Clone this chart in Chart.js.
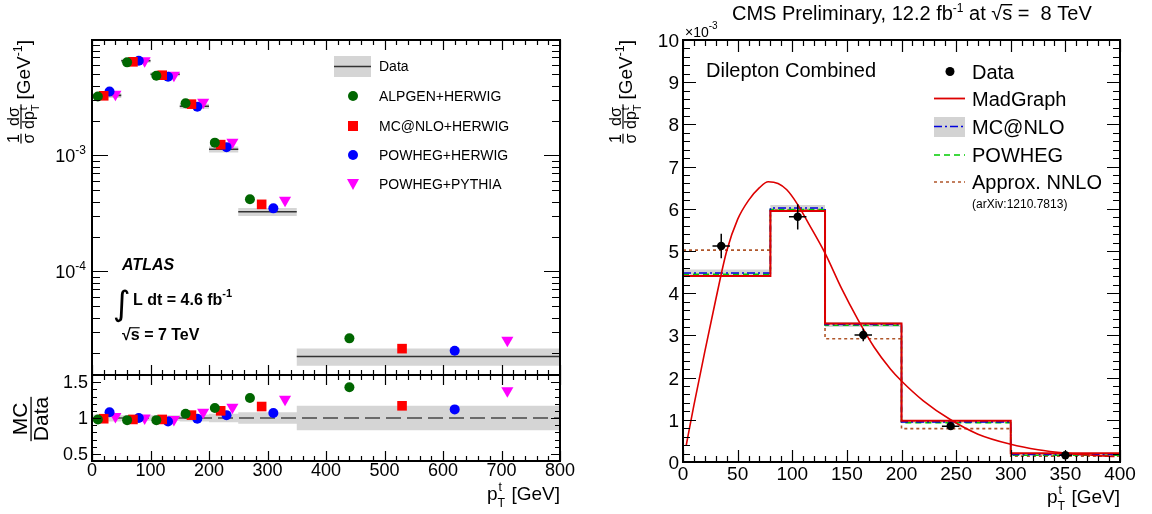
<!DOCTYPE html>
<html lang="en">
<head>
<meta charset="UTF-8" />
<title>Top quark pT spectra</title>
<script src="https://cdn.jsdelivr.net/npm/chart.js"></script>
<style>
  body { margin: 0; background: #fff; }
  #page { position: relative; width: 1152px; height: 514px; overflow: hidden; }
  canvas { position: absolute; }
</style>
</head>
<body>
<div id="page">
  <canvas id="atlasTop" width="580" height="380" style="left:0;top:0"></canvas>
  <canvas id="atlasRatio" width="580" height="144" style="left:0;top:370px"></canvas>
  <canvas id="cms" width="572" height="514" style="left:580px;top:0"></canvas>
</div>
<script>
// ---- ATLAS 7 TeV (left) ----
const ptEdges = [0, 50, 100, 150, 200, 250, 350, 800];
const dataXsec = [3.30e-3, 6.55e-3, 5.02e-3, 2.66e-3, 1.13e-3, 3.27e-4, 1.85e-5];
const dataRelErr = [0.05, 0.04, 0.04, 0.05, 0.06, 0.08, 0.17];

const alpgenPt = [10, 60, 110, 160, 210, 270, 440];
const mcnloPt = [20, 70, 120, 170, 220, 290, 530];
const powhegHerwigPt = [30, 80, 130, 180, 230, 310, 620];
const powhegPythiaPt = [40, 90, 140, 190, 240, 330, 710];

const alpgenXsec = [3.23e-3, 6.35e-3, 4.87e-3, 2.82e-3, 1.29e-3, 4.19e-4, 2.65e-5];
const mcnloXsec = [3.27e-3, 6.42e-3, 4.92e-3, 2.77e-3, 1.24e-3, 3.79e-4, 2.16e-5];
const powhegHerwigXsec = [3.56e-3, 6.55e-3, 4.77e-3, 2.63e-3, 1.18e-3, 3.50e-4, 2.07e-5];
const powhegPythiaXsec = [3.37e-3, 6.55e-3, 4.92e-3, 2.87e-3, 1.30e-3, 4.12e-4, 2.55e-5];

const alpgenRatio = [0.98, 0.97, 0.97, 1.06, 1.14, 1.28, 1.43];
const mcnloRatio = [0.99, 0.98, 0.98, 1.04, 1.10, 1.16, 1.17];
const powhegHerwigRatio = [1.08, 1.00, 0.95, 0.99, 1.04, 1.07, 1.12];
const powhegPythiaRatio = [1.02, 1.00, 0.98, 1.08, 1.15, 1.26, 1.38];

// ---- CMS 8 TeV (right), values in units of 1e-3 GeV^-1 ----
const cmsEdges = [0, 80, 130, 200, 300, 400];
const madgraphHist = [4.41, 5.95, 3.28, 0.98, 0.21];
const mcnloHist = [4.48, 6.02, 3.26, 0.95, 0.18];
const mcnloUnc = [0.08, 0.07, 0.06, 0.03, 0.02];
const powhegHist = [4.45, 5.98, 3.24, 0.93, 0.16];
const nnloHist = [5.02, 5.97, 2.92, 0.79, 0.14];
const cmsPt = [35, 105, 165, 245, 350];
const cmsXsec = [5.12, 5.81, 3.01, 0.85, 0.16];
const cmsYErr = [0.29, 0.30, 0.15, 0.05, 0.03];
const cmsXErr = [8, 8, 8, 8, 6];
const madCurvePt = [3, 10, 20, 30, 40, 50, 60, 70, 78, 87, 95, 105, 115, 130, 145, 160, 175, 190, 200, 220, 245, 270, 300, 325, 350, 375, 395];
const madCurveXsec = [0.40, 1.35, 2.62, 3.85, 5.0, 5.75, 6.2, 6.5, 6.64, 6.6, 6.45, 6.1, 5.65, 4.95, 4.12, 3.38, 2.72, 2.2, 1.92, 1.45, 1.0, 0.66, 0.42, 0.29, 0.21, 0.16, 0.13];

const FAM = '"Liberation Sans", Arial, sans-serif';
const fnt = (size, style) => (style ? style + ' ' : '') + size + 'px ' + FAM;

function txt(ctx, s, x, y, size, align, style) {
  ctx.font = fnt(size, style);
  ctx.textAlign = align || 'left';
  ctx.textBaseline = 'alphabetic';
  ctx.fillText(s, x, y);
  return ctx.measureText(s).width;
}
function tw(ctx, s, size, style) {
  ctx.font = fnt(size, style);
  return ctx.measureText(s).width;
}

// histogram -> points at bin edges (last value repeated)
function steps(edges, vals, fn) {
  return edges.map((e, i) => {
    const k = Math.min(i, vals.length - 1);
    return { x: e, y: fn ? fn(vals[k], k) : vals[k] };
  });
}
// horizontal segments only, no verticals
function segments(edges, vals) {
  const pts = [];
  vals.forEach((v, i) => {
    pts.push({ x: edges[i], y: v }, { x: edges[i + 1], y: v }, { x: edges[i + 1], y: null });
  });
  return pts;
}
const xy = (xs, ys) => xs.map((x, i) => ({ x: x, y: ys[i] }));

function marker(label, xs, ys, color, style, r, rot) {
  return {
    label: label, data: xy(xs, ys), order: 1,
    pointStyle: style, pointRadius: r, pointRotation: rot || 0,
    pointBackgroundColor: color, pointBorderColor: color, pointBorderWidth: 0
  };
}

// frame with inward ticks on all four sides
function frame(cfg) {
  return {
    id: 'frame',
    afterDatasetsDraw(chart) {
      const ctx = chart.ctx, a = chart.chartArea;
      const sx = chart.scales.x, sy = chart.scales.y;
      ctx.save();
      ctx.strokeStyle = '#000';
      ctx.lineWidth = 1.2;
      ctx.setLineDash([]);
      ctx.beginPath();
      const n0 = Math.ceil(sx.min / cfg.xMinor - 1e-6), n1 = Math.floor(sx.max / cfg.xMinor + 1e-6);
      for (let n = n0; n <= n1; n++) {
        const v = n * cfg.xMinor;
        const major = Math.abs(v / cfg.xMajor - Math.round(v / cfg.xMajor)) < 1e-6;
        const len = major ? cfg.xLen[0] : cfg.xLen[1];
        const px = Math.round(sx.getPixelForValue(v)) + 0.5;
        ctx.moveTo(px, a.bottom); ctx.lineTo(px, a.bottom - len);
        ctx.moveTo(px, a.top); ctx.lineTo(px, a.top + len);
      }
      const yv = [];
      if (cfg.log) {
        for (let e = Math.floor(Math.log10(sy.min)); e <= Math.ceil(Math.log10(sy.max)); e++) {
          for (let k = 1; k < 10; k++) {
            const v = k * Math.pow(10, e);
            if (v >= sy.min && v <= sy.max) yv.push([v, k === 1]);
          }
        }
      } else {
        const m0 = Math.ceil(sy.min / cfg.yMinor - 1e-6), m1 = Math.floor(sy.max / cfg.yMinor + 1e-6);
        for (let m = m0; m <= m1; m++) {
          const v = m * cfg.yMinor;
          yv.push([v, Math.abs(v / cfg.yMajor - Math.round(v / cfg.yMajor)) < 1e-6]);
        }
      }
      yv.forEach(([v, major]) => {
        const len = major ? cfg.yLen[0] : cfg.yLen[1];
        const py = Math.round(sy.getPixelForValue(v)) + 0.5;
        ctx.moveTo(a.left, py); ctx.lineTo(a.left + len, py);
        ctx.moveTo(a.right, py); ctx.lineTo(a.right - len, py);
      });
      ctx.stroke();
      ctx.lineWidth = 2;
      ctx.strokeRect(a.left, a.top, a.right - a.left, a.bottom - a.top);
      ctx.restore();
    }
  };
}

// rotated "1/σ dσ/dp_T^t [GeV^-1]"
function xsecTitle(ctx, xc, yTop, big, small) {
  ctx.save();
  ctx.translate(xc, yTop);
  ctx.rotate(-Math.PI / 2);
  ctx.fillStyle = '#000';
  const sub = small * 0.7;
  const w1 = Math.max(tw(ctx, '1', small), tw(ctx, 'σ', small));
  const wd = tw(ctx, 'dσ', small), wdp = tw(ctx, 'dp', small);
  const wst = Math.max(tw(ctx, 't', sub), tw(ctx, 'T', sub));
  const w2 = Math.max(wd, wdp + wst);
  const wg = tw(ctx, '[GeV', big), wsup = tw(ctx, '-1', big * 0.65), wb = tw(ctx, ']', big);
  const gap = big * 0.25;
  let u = -(w1 + gap + w2 + gap + wg + wsup + wb);
  const nb = -2.5, db = small * 0.8;
  txt(ctx, '1', u + w1 / 2, nb, small, 'center');
  txt(ctx, 'σ', u + w1 / 2, db, small, 'center');
  ctx.fillRect(u, -0.6, w1, 1.2);
  u += w1 + gap;
  txt(ctx, 'dσ', u + w2 / 2, nb, small, 'center');
  const dx = u + (w2 - wdp - wst) / 2;
  txt(ctx, 'dp', dx, db, small);
  txt(ctx, 't', dx + wdp + 1, db - small * 0.45, sub);
  txt(ctx, 'T', dx + wdp, db + small * 0.3, sub);
  ctx.fillRect(u, -0.6, w2, 1.2);
  u += w2 + gap;
  const gb = big * 0.45;
  txt(ctx, '[GeV', u, gb, big); u += wg;
  txt(ctx, '-1', u, gb - big * 0.4, big * 0.65); u += wsup;
  txt(ctx, ']', u, gb, big);
  ctx.restore();
}

// "p_T^t [GeV]" right aligned
function ptTitle(ctx, xRight, y, size) {
  const sub = size * 0.65;
  const wp = tw(ctx, 'p', size), ws = Math.max(tw(ctx, 't', sub), tw(ctx, 'T', sub)) + 1, wg = tw(ctx, ' [GeV]', size);
  let x = xRight - (wp + ws + wg);
  txt(ctx, 'p', x, y, size); x += wp;
  txt(ctx, 't', x + 1, y - size * 0.45, sub);
  txt(ctx, 'T', x, y + size * 0.35, sub);
  x += ws;
  txt(ctx, ' [GeV]', x, y, size);
}

// √s with overline, returns width
function sqrtS(ctx, x, y, size, style) {
  const wr = txt(ctx, '√', x, y, size, 'left', style);
  const ws = txt(ctx, 's', x + wr, y, size, 'left', style);
  ctx.fillRect(x + wr - 1, y - size * 0.8, ws + 1, Math.max(1, size * 0.07));
  return wr + ws;
}

function dot(ctx, x, y, r, color) {
  ctx.fillStyle = color;
  ctx.beginPath(); ctx.arc(x, y, r, 0, Math.PI * 2); ctx.fill();
}

const baseOptions = (pad, xr, yr, ytype) => ({
  responsive: false,
  animation: false,
  events: [],
  layout: { padding: pad, autoPadding: false },
  plugins: { legend: { display: false }, tooltip: { enabled: false } },
  scales: {
    x: { type: 'linear', min: xr[0], max: xr[1], bounds: 'data', display: false },
    y: { type: ytype || 'linear', min: yr[0], max: yr[1], bounds: 'data', display: false }
  }
});

// ================= ATLAS top panel =================
new Chart(document.getElementById('atlasTop'), {
  type: 'scatter',
  data: {
    datasets: [
      { label: 'band hi', data: steps(ptEdges, dataXsec, (v, k) => v * (1 + dataRelErr[k])), showLine: true, stepped: true,
        borderWidth: 0, pointRadius: 0, fill: '+1', backgroundColor: '#d5d5d5', order: 10 },
      { label: 'band lo', data: steps(ptEdges, dataXsec, (v, k) => v * (1 - dataRelErr[k])), showLine: true, stepped: true,
        borderWidth: 0, pointRadius: 0, order: 10 },
      { label: 'Data', data: segments(ptEdges, dataXsec), showLine: true, spanGaps: false,
        borderColor: '#333', borderWidth: 1.6, pointRadius: 0, order: 5 },
      marker('ALPGEN+HERWIG', alpgenPt, alpgenXsec, '#006600', 'circle', 5),
      marker('MC@NLO+HERWIG', mcnloPt, mcnloXsec, '#ff0000', 'rect', 6.8),
      marker('POWHEG+HERWIG', powhegHerwigPt, powhegHerwigXsec, '#0000ff', 'circle', 5),
      marker('POWHEG+PYTHIA', powhegPythiaPt, powhegPythiaXsec, '#ff00ff', 'triangle', 7, 180)
    ]
  },
  options: baseOptions({ left: 92, top: 40, right: 20, bottom: 5 }, [0, 800], [1.28e-5, 9.9e-3], 'logarithmic'),
  plugins: [
    frame({ xMajor: 100, xMinor: 20, xLen: [10, 5], log: true, yLen: [16, 8] }),
    {
      id: 'atlasTopText',
      afterDatasetsDraw(chart) {
        const ctx = chart.ctx, sy = chart.scales.y;
        ctx.save();
        ctx.fillStyle = '#000';
        [[1e-3, '-3'], [1e-4, '-4']].forEach(([v, e]) => {
          const py = sy.getPixelForValue(v);
          const we = tw(ctx, e, 12);
          txt(ctx, e, 86, py - 1, 12, 'right');
          txt(ctx, '10', 86 - we, py + 7, 18, 'right');
        });
        xsecTitle(ctx, 21, 40, 19, 16);

        // legend
        ctx.fillStyle = '#d5d5d5';
        ctx.fillRect(334, 56, 37, 21);
        ctx.strokeStyle = '#333'; ctx.lineWidth = 1.6;
        ctx.beginPath(); ctx.moveTo(334, 66.5); ctx.lineTo(371, 66.5); ctx.stroke();
        ctx.fillStyle = '#000';
        txt(ctx, 'Data', 379, 71, 14);
        const mx = 353;
        dot(ctx, mx, 96, 5, '#006600');
        ctx.fillStyle = '#ff0000'; ctx.fillRect(mx - 5, 121, 10, 10);
        dot(ctx, mx, 155, 5, '#0000ff');
        ctx.fillStyle = '#ff00ff';
        ctx.beginPath(); ctx.moveTo(mx - 6, 179); ctx.lineTo(mx + 6, 179); ctx.lineTo(mx, 190); ctx.closePath(); ctx.fill();
        ctx.fillStyle = '#000';
        txt(ctx, 'ALPGEN+HERWIG', 379, 101, 14);
        txt(ctx, 'MC@NLO+HERWIG', 379, 131, 14);
        txt(ctx, 'POWHEG+HERWIG', 379, 160, 14);
        txt(ctx, 'POWHEG+PYTHIA', 379, 189, 14);

        // ATLAS label
        txt(ctx, 'ATLAS', 122, 270, 16, 'left', 'italic bold');
        ctx.font = '34px "DejaVu Sans"'; ctx.textAlign = 'left';
        ctx.fillText('∫', 113, 315);
        let x = 133;
        x += txt(ctx, 'L dt = 4.6 fb', x, 305, 16, 'left', 'bold');
        txt(ctx, '-1', x, 297, 11, 'left', 'bold');
        x = 122;
        x += sqrtS(ctx, x, 340, 16, 'bold');
        txt(ctx, ' = 7 TeV', x, 340, 16, 'left', 'bold');
        ctx.restore();
      }
    }
  ]
});

// ================= ATLAS ratio panel =================
new Chart(document.getElementById('atlasRatio'), {
  type: 'scatter',
  data: {
    datasets: [
      { label: 'band hi', data: steps(ptEdges, dataRelErr, e => 1 + e), showLine: true, stepped: true,
        borderWidth: 0, pointRadius: 0, fill: '+1', backgroundColor: '#d5d5d5', order: 10 },
      { label: 'band lo', data: steps(ptEdges, dataRelErr, e => 1 - e), showLine: true, stepped: true,
        borderWidth: 0, pointRadius: 0, order: 10 },
      { label: 'unity', data: [{ x: 0, y: 1 }, { x: 800, y: 1 }], showLine: true, borderColor: '#000',
        borderWidth: 1.2, borderDash: [15, 6], pointRadius: 0, order: 5 },
      marker('ALPGEN+HERWIG', alpgenPt, alpgenRatio, '#006600', 'circle', 5),
      marker('MC@NLO+HERWIG', mcnloPt, mcnloRatio, '#ff0000', 'rect', 6.8),
      marker('POWHEG+HERWIG', powhegHerwigPt, powhegHerwigRatio, '#0000ff', 'circle', 5),
      marker('POWHEG+PYTHIA', powhegPythiaPt, powhegPythiaRatio, '#ff00ff', 'triangle', 7, 180)
    ]
  },
  options: baseOptions({ left: 92, top: 5, right: 20, bottom: 53 }, [0, 800], [0.4, 1.6]),
  plugins: [
    frame({ xMajor: 100, xMinor: 20, xLen: [10, 5], yMajor: 0.5, yMinor: 0.1, yLen: [9, 5] }),
    {
      id: 'atlasRatioText',
      afterDatasetsDraw(chart) {
        const ctx = chart.ctx, sx = chart.scales.x, sy = chart.scales.y;
        ctx.save();
        ctx.fillStyle = '#000';
        [[1.5, '1.5'], [1, '1'], [0.5, '0.5']].forEach(([v, s]) => {
          txt(ctx, s, 88, sy.getPixelForValue(v) + 6, 18, 'right');
        });
        for (let v = 0; v <= 800; v += 100) txt(ctx, String(v), sx.getPixelForValue(v), 106, 18, 'center');
        ptTitle(ctx, 560, 130, 19);
        // MC / Data
        ctx.save();
        ctx.translate(31, sy.getPixelForValue(1) + 1);
        ctx.rotate(-Math.PI / 2);
        const wd = tw(ctx, 'Data', 21);
        txt(ctx, 'MC', 0, -4, 21, 'center');
        txt(ctx, 'Data', 0, 17, 21, 'center');
        ctx.fillRect(-wd / 2, -0.6, wd, 1.3);
        ctx.restore();
        ctx.restore();
      }
    }
  ]
});

// ================= CMS panel =================
new Chart(document.getElementById('cms'), {
  type: 'scatter',
  data: {
    datasets: [
      { label: 'MC@NLO unc hi', data: steps(cmsEdges, mcnloHist, (v, k) => v + mcnloUnc[k]), showLine: true, stepped: true,
        borderWidth: 0, pointRadius: 0, fill: '+1', backgroundColor: '#d3d3d3', order: 10 },
      { label: 'MC@NLO unc lo', data: steps(cmsEdges, mcnloHist, (v, k) => v - mcnloUnc[k]), showLine: true, stepped: true,
        borderWidth: 0, pointRadius: 0, order: 10 },
      { label: 'Approx. NNLO', data: steps(cmsEdges, nnloHist), showLine: true, stepped: true,
        borderColor: '#b0562a', borderWidth: 1.6, borderDash: [3, 3], pointRadius: 0, order: 6 },
      { label: 'POWHEG', data: steps(cmsEdges, powhegHist), showLine: true, stepped: true,
        borderColor: '#00cc00', borderWidth: 1.6, borderDash: [6, 4], pointRadius: 0, order: 5 },
      { label: 'MC@NLO', data: steps(cmsEdges, mcnloHist), showLine: true, stepped: true,
        borderColor: '#0000dd', borderWidth: 1.6, borderDash: [8, 3, 2, 3], pointRadius: 0, order: 4 },
      { label: 'MadGraph', data: steps(cmsEdges, madgraphHist), showLine: true, stepped: true,
        borderColor: '#dd0000', borderWidth: 2, pointRadius: 0, order: 3 },
      { label: 'MadGraph curve', data: xy(madCurvePt, madCurveXsec), showLine: true, cubicInterpolationMode: 'monotone',
        borderColor: '#dd0000', borderWidth: 1.6, pointRadius: 0, order: 2 },
      marker('Data', cmsPt, cmsXsec, '#000', 'circle', 4.2)
    ]
  },
  options: baseOptions({ left: 103, top: 40, right: 32, bottom: 52 }, [0, 400], [0, 10]),
  plugins: [
    {
      id: 'errorBars',
      afterDatasetsDraw(chart) {
        const ctx = chart.ctx, sx = chart.scales.x, sy = chart.scales.y;
        ctx.save();
        ctx.strokeStyle = '#000'; ctx.lineWidth = 1.5;
        ctx.beginPath();
        cmsPt.forEach((x, i) => {
          const px = sx.getPixelForValue(x), py = sy.getPixelForValue(cmsXsec[i]);
          ctx.moveTo(px, sy.getPixelForValue(cmsXsec[i] - cmsYErr[i]));
          ctx.lineTo(px, sy.getPixelForValue(cmsXsec[i] + cmsYErr[i]));
          ctx.moveTo(sx.getPixelForValue(x - cmsXErr[i]), py);
          ctx.lineTo(sx.getPixelForValue(x + cmsXErr[i]), py);
        });
        ctx.stroke();
        ctx.restore();
      }
    },
    frame({ xMajor: 50, xMinor: 10, xLen: [12, 6], yMajor: 1, yMinor: 0.2, yLen: [13, 7] }),
    {
      id: 'cmsText',
      afterDatasetsDraw(chart) {
        const ctx = chart.ctx, sx = chart.scales.x, sy = chart.scales.y, a = chart.chartArea;
        ctx.save();
        ctx.fillStyle = '#000';
        for (let v = 0; v <= 10; v++) txt(ctx, String(v), a.left - 4, sy.getPixelForValue(v) + 7, 19, 'right');
        for (let v = 0; v <= 400; v += 50) txt(ctx, String(v), sx.getPixelForValue(v), 480, 19, 'center');
        ptTitle(ctx, a.right, 503, 19);
        xsecTitle(ctx, 43, 40, 19, 16);
        // x10^-3
        let x = a.left + 2;
        x += txt(ctx, '×10', x, 37, 14);
        txt(ctx, '-3', x, 29, 10);
        // header
        x = 152;
        x += txt(ctx, 'CMS Preliminary, 12.2 fb', x, 20, 20);
        x += txt(ctx, '-1', x, 12, 12);
        x += txt(ctx, ' at ', x, 20, 20);
        x += sqrtS(ctx, x, 20, 20);
        txt(ctx, ' =  8 TeV', x, 20, 20);
        txt(ctx, 'Dilepton Combined', 126, 77, 20);

        // legend
        const lx0 = 354, lx1 = 385, tx = 392;
        dot(ctx, 370, 71.5, 4.5, '#000');
        ctx.fillStyle = '#000';
        txt(ctx, 'Data', tx, 79, 20);
        const line = (y, color, dash, width) => {
          ctx.strokeStyle = color; ctx.lineWidth = width; ctx.setLineDash(dash);
          ctx.beginPath(); ctx.moveTo(lx0, y); ctx.lineTo(lx1, y); ctx.stroke();
        };
        line(98.5, '#dd0000', [], 1.8);
        txt(ctx, 'MadGraph', tx, 106, 20);
        ctx.fillStyle = '#d3d3d3'; ctx.fillRect(lx0, 117, lx1 - lx0, 20);
        line(126.5, '#0000dd', [8, 3, 2, 3], 1.6);
        ctx.fillStyle = '#000';
        txt(ctx, 'MC@NLO', tx, 134, 20);
        line(155, '#00cc00', [6, 4], 1.6);
        txt(ctx, 'POWHEG', tx, 162, 20);
        line(182, '#b0562a', [3, 3], 1.6);
        txt(ctx, 'Approx. NNLO', tx, 189, 20);
        ctx.setLineDash([]);
        txt(ctx, '(arXiv:1210.7813)', tx, 208, 12);
        ctx.restore();
      }
    }
  ]
});
</script>
</body>
</html>
